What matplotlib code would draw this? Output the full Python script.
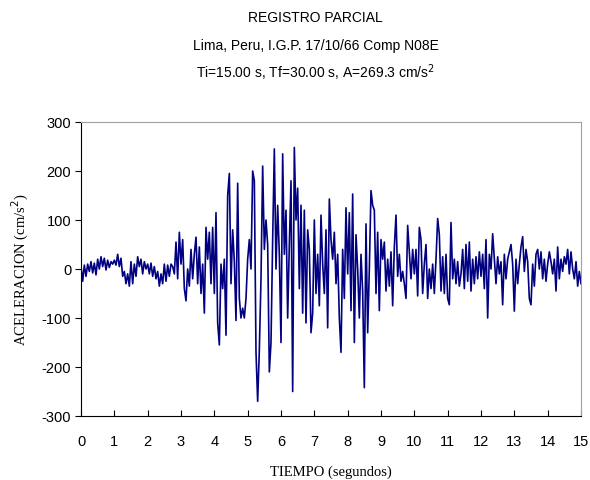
import numpy as np
import matplotlib
matplotlib.use("Agg")
import matplotlib.pyplot as plt

plt.rcParams["axes.unicode_minus"] = False

dt = 0.05
acc_0_2 = [5, -25, 8, -15, 10, -5, 15, -8, 12, -12, 20, 0, 25, 5, 22, -2, 18, 3, 15, 10,
           18, 8, 30, 5, 22, -15, -5, -30, -10, -35, 15, -30, 10, -15, 25, 5, 20, -10, 15, 0]
acc_2_4 = [10, -10, 12, -15, 5, -20, -5, -35, -10, -30, 10, -25, 8, -15, 10, 5, -10, 55, -20, 75,
           10, 60, -40, -65, 0, -35, 40, -20, 30, 65, -30, 45, -50, 10, -90, 85, 20, 75, -30, 85]
acc_4_6 = [-50, 115, -110, -155, 10, -40, 20, -135, 150, 195, -30, 80, 15, -105, 175, -60, -100, -80, -100, -60,
           20, 60, 0, 200, 180, -170, -270, -165, -20, 210, 40, 100, 50, -210, -150, 60, 245, 0, 130, 30]
acc_6_8 = [-150, 235, 30, 120, -100, 50, 180, -250, 248, 100, 165, -40, 130, -90, 120, -110, 80, 40, -130, -90,
           100, -50, 30, -75, 110, 10, -50, 80, -120, 143, 60, 20, 75, -30, 30, -100, -170, 40, -60, 125]
acc_8_10 = [-10, 115, -85, 153, -150, 70, 0, -100, 30, -45, -242, 92, -130, 0, 160, 130, 120, -50, 75, -85,
            60, 20, 55, -45, 20, -35, 35, -75, 45, 110, -15, 30, -25, -5, -30, -60, 89, 35, -20, 40]
acc_10_12 = [-10, 40, -55, 85, 60, -50, 10, 50, -60, 0, -40, 10, -50, 20, 103, 70, -45, 25, -50, 30,
             -60, -73, 95, -20, 20, -30, 15, -35, -10, 40, -40, 50, -25, 55, -45, 20, -30, 25, -20, 35]
acc_12_14 = [-15, 30, -40, 60, -100, 30, 0, 72, 20, -30, 25, -10, 15, -73, 30, -20, 20, 35, 50, 10,
             -86, 20, -30, 10, 45, 66, -5, 40, 15, -60, -73, 10, -35, 30, 40, 0, 35, -20, 20, -25]
acc_14_15 = [10, 35, 15, -10, 20, -45, 45, -20, 20, -5, 25, 10, 40, -10, 35, 0, -20, 15, -35, -5, -30]

acc = np.array(acc_0_2 + acc_2_4 + acc_4_6 + acc_6_8 + acc_8_10 + acc_10_12 + acc_12_14 + acc_14_15, dtype=float)
t = np.arange(len(acc)) * dt

x_ticks = list(range(0, 16))
y_ticks = [-300, -200, -100, 0, 100, 200, 300]

fig = plt.figure(figsize=(5.9, 4.81), dpi=100)
ax = fig.add_axes([81 / 590, 1 - 417 / 481, 500 / 590, 294 / 481])

ax.plot(t, acc, color="#000080", linewidth=1.2)

ax.set_xlim(0, 15)
ax.set_ylim(-300, 300)
ax.set_xticks(x_ticks)
ax.set_yticks(y_ticks)
ax.tick_params(axis="x", direction="in", length=4, labelsize=10.5, pad=13)
ax.tick_params(axis="y", direction="out", length=4, labelsize=10.5, pad=3)
for lab in ax.get_xticklabels() + ax.get_yticklabels():
    lab.set_fontfamily("Liberation Sans")

ax.spines["top"].set_color("#a0a0a0")
ax.spines["right"].set_color("#a0a0a0")

ax.set_xlabel("TIEMPO (segundos)", fontfamily="Liberation Serif", fontsize=10.5, labelpad=12)
ax.set_ylabel("ACELERACION (cm/s$^2$)", fontfamily="Liberation Serif", fontsize=10.5, labelpad=8)

fig.text(0.535, 1 - 18 / 481, "REGISTRO PARCIAL", ha="center", va="center",
         fontfamily="Liberation Sans", fontsize=10)
fig.text(0.535, 1 - 46 / 481, "Lima, Peru, I.G.P. 17/10/66 Comp N08E", ha="center", va="center",
         fontfamily="Liberation Sans", fontsize=10)
fig.text(0.535, 1 - 73 / 481, "Ti=15.00 s, Tf=30.00 s, A=269.3 cm/s$^2$", ha="center", va="center",
         fontfamily="Liberation Sans", fontsize=10)

fig.savefig("out.png", dpi=100)
